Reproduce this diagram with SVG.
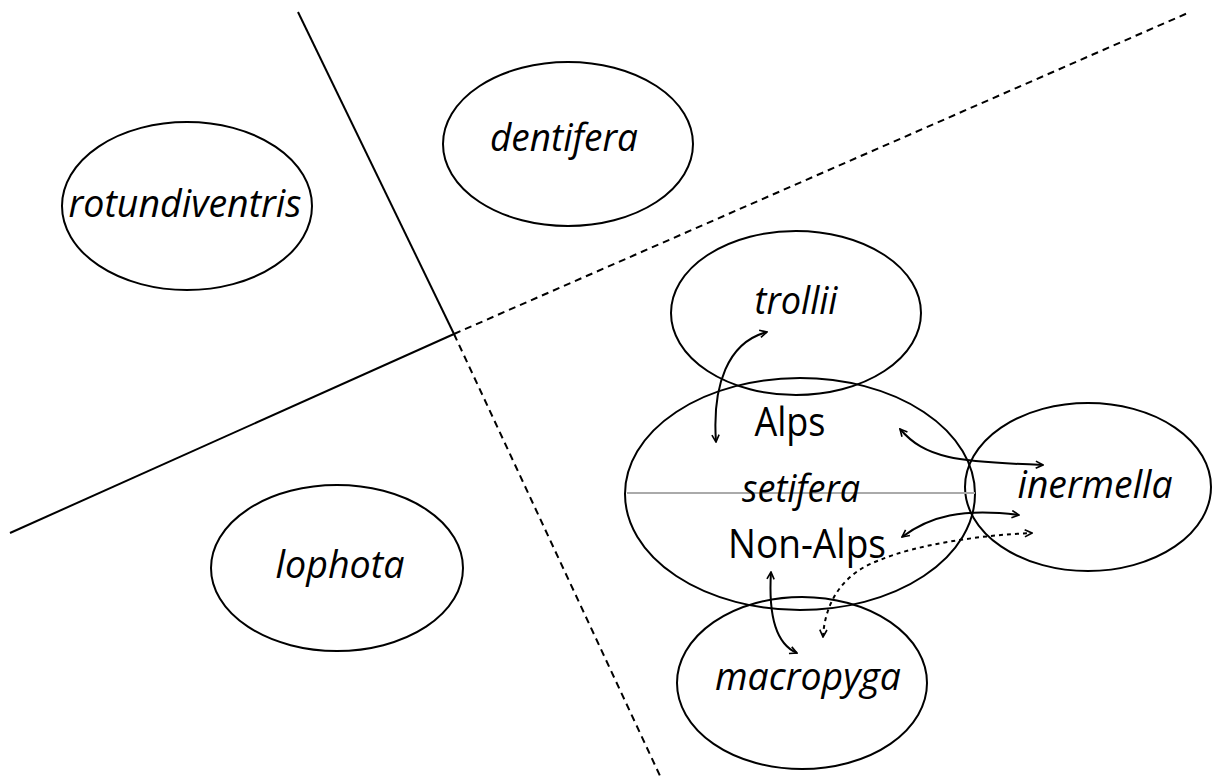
<svg xmlns="http://www.w3.org/2000/svg" width="1214" height="778" viewBox="0 0 1214 778">
  <defs>
    <style>
      .oval { fill: none; stroke: #000; stroke-width: 2; }
      .sp { font-family: "Open Sans", "Noto Sans", sans-serif; font-style: italic; font-size: 38px; fill: #000; text-anchor: middle; }
      .reg { font-family: "Open Sans", "Noto Sans", sans-serif; font-size: 40px; fill: #000; text-anchor: middle; }
      .divider { fill: none; stroke: #000; stroke-width: 2; }
      .dash { stroke-dasharray: 7 5; }
      .flow { fill: none; stroke: #000; stroke-width: 2; marker-start: url(#tip); marker-end: url(#tip); }
      .dotted { stroke-dasharray: 4 4; }
    </style>
    <marker id="tip" viewBox="0 0 10 10" refX="9" refY="5" markerWidth="9" markerHeight="9" markerUnits="userSpaceOnUse" orient="auto-start-reverse">
      <path d="M1,1 L9,5 L1,9" fill="none" stroke="#000" stroke-width="1.8"/>
    </marker>
  </defs>
  <rect width="1214" height="778" fill="#fff"/>

  <!-- dividing lines between groups -->
  <g id="dividers">
    <line class="divider" x1="298" y1="12" x2="454" y2="334"/>
    <line class="divider" x1="10" y1="533" x2="454" y2="334"/>
    <line class="divider dash" x1="454" y1="334" x2="1190" y2="12"/>
    <line class="divider dash" x1="454" y1="334" x2="661" y2="778"/>
  </g>

  <g id="rotundiventris">
    <ellipse class="oval" cx="187" cy="206" rx="125" ry="84"/>
    <text class="sp" x="185" y="217" textLength="233" lengthAdjust="spacingAndGlyphs">rotundiventris</text>
  </g>

  <g id="dentifera">
    <ellipse class="oval" cx="568" cy="144" rx="125" ry="82"/>
    <text class="sp" x="564" y="151" textLength="148" lengthAdjust="spacingAndGlyphs">dentifera</text>
  </g>

  <g id="lophota">
    <ellipse class="oval" cx="337" cy="568" rx="126" ry="83"/>
    <text class="sp" x="340" y="578" textLength="129" lengthAdjust="spacingAndGlyphs">lophota</text>
  </g>

  <g id="trollii">
    <ellipse class="oval" cx="796" cy="313" rx="125" ry="82"/>
    <text class="sp" x="796" y="314" textLength="83" lengthAdjust="spacingAndGlyphs">trollii</text>
  </g>

  <g id="macropyga">
    <ellipse class="oval" cx="802" cy="683" rx="125" ry="86"/>
    <text class="sp" x="808" y="690" textLength="186" lengthAdjust="spacingAndGlyphs">macropyga</text>
  </g>

  <g id="inermella">
    <ellipse class="oval" cx="1088" cy="487" rx="123" ry="84"/>
    <text class="sp" x="1095" y="498" textLength="155" lengthAdjust="spacingAndGlyphs">inermella</text>
  </g>

  <g id="setifera">
    <ellipse class="oval" cx="800" cy="494" rx="175" ry="116" fill="#fff"/>
    <line x1="627" y1="493" x2="975" y2="493" stroke="#aaa" stroke-width="2"/>
    <text class="reg" x="790" y="436" textLength="71" lengthAdjust="spacingAndGlyphs">Alps</text>
    <text class="sp" x="801" y="502" textLength="118" lengthAdjust="spacingAndGlyphs">setifera</text>
    <text class="reg" x="807" y="558" textLength="158" lengthAdjust="spacingAndGlyphs">Non-Alps</text>
  </g>

  <!-- exchanges between populations -->
  <g id="connectors">
    <path class="flow" d="M716,442 C712,385 728,342 767,332"/>
    <path class="flow" d="M900,429 C925,458 955,462 1043,465"/>
    <path class="flow" d="M902,537 C930,516 962,508 1019,515"/>
    <path class="flow" d="M771,572 C768,620 778,645 797,653"/>
    <path class="flow dotted" d="M823,637 C825,600 845,572 880,560 C915,545 980,535 1032,533"/>
  </g>
</svg>
